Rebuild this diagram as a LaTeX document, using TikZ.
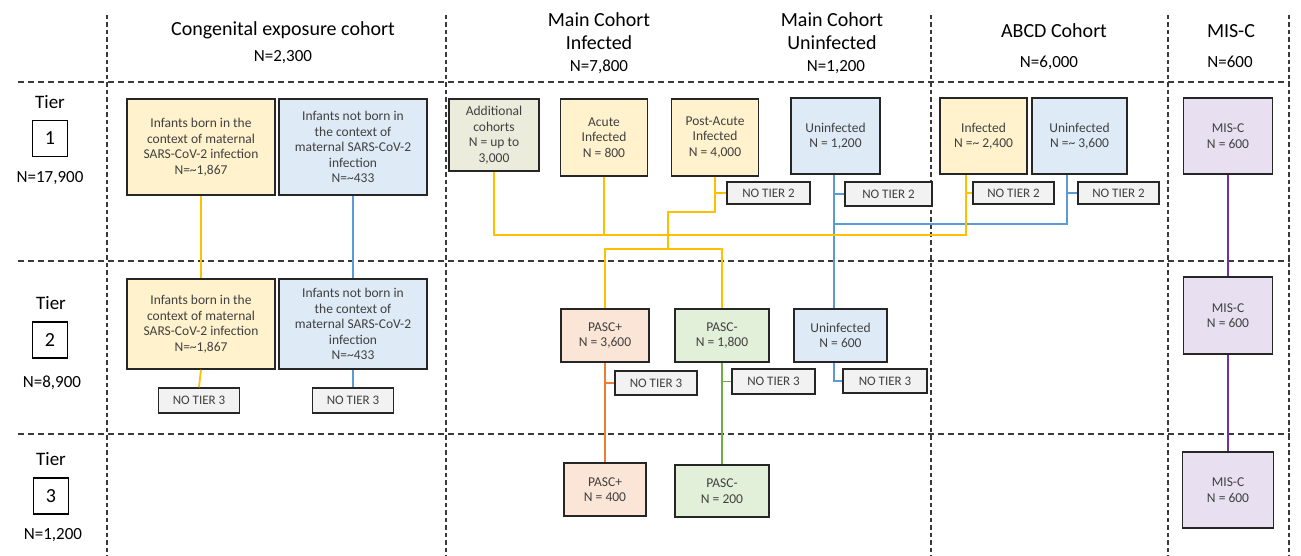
\documentclass[tikz,border=0pt]{standalone}
\usepackage{fontspec}
\setmainfont{Carlito}
\usetikzlibrary{calc}
\definecolor{ylfill}{HTML}{FFF2CC}
\definecolor{blfill}{HTML}{DEEBF7}
\definecolor{olfill}{HTML}{ECECDC}
\definecolor{orfill}{HTML}{FBE5D6}
\definecolor{grfill}{HTML}{E2F0D9}
\definecolor{pufill}{HTML}{E8DFF0}
\definecolor{ntfill}{HTML}{F2F2F2}
\definecolor{yline}{HTML}{FFC000}
\definecolor{bline}{HTML}{5B9BD5}
\definecolor{oline}{HTML}{ED7D31}
\definecolor{gline}{HTML}{70AD47}
\definecolor{pline}{HTML}{7030A0}
\definecolor{bordc}{HTML}{262626}
\definecolor{txtc}{HTML}{404040}
\definecolor{gridc}{HTML}{3A3A3A}
\begin{document}
\begin{tikzpicture}[x=1pt,y=-1pt,
  bx/.style={draw=bordc, line width=1.5pt, align=center, inner sep=1pt, text=txtc,
    font=\fontsize{13.5}{15.5}\selectfont},
  sz/.style 2 args={minimum width=#1pt, minimum height=#2pt},
  nt/.style={bx, fill=ntfill, font=\fontsize{13}{15}\selectfont},
  hdr/.style={align=center, font=\fontsize{20}{23}\selectfont, text=black, inner sep=0pt},
  nlab/.style={font=\fontsize{17}{20}\selectfont, text=black, inner sep=0pt},
  tierbox/.style={draw=black, line width=1.2pt, fill=white, minimum width=35pt, minimum height=36pt,
    font=\fontsize{20}{22}\selectfont, inner sep=0pt},
  gridln/.style={draw=gridc, line width=1.2pt, dash pattern=on 6pt off 4pt},
  gridv/.style={draw=gridc, line width=1.2pt, dash pattern=on 4.5pt off 3pt},
  conn/.style={line width=1.8pt}
]
\useasboundingbox (0,0) rectangle (1301,556);
\fill[white] (0,0) rectangle (1301,556);

% grid
\foreach \xx in {107,446,931,1168,1289} \draw[gridv] (\xx,15) -- (\xx,556);
\foreach \yy in {82,261,434} \draw[gridln] (18,\yy) -- (1290,\yy);

% headers
\node[hdr] (hcong) at (283,30) {Congenital exposure cohort};
\node[nlab] (ncong) at (283,57) {N=2,300};
\node[hdr] (hmi) at (599,31.5) {Main Cohort\\Infected};
\node[nlab] (nmi) at (599,67) {N=7,800};
\node[hdr] (hmu) at (832,31.5) {Main Cohort\\Uninfected};
\node[nlab] (nmu) at (836,67) {N=1,200};
\node[hdr] (habcd) at (1054,31) {ABCD Cohort};
\node[nlab] (nabcd) at (1049,63) {N=6,000};
\node[hdr] (hmis) at (1231,31) {MIS-C};
\node[nlab] (nmis) at (1230,62) {N=600};

% tier labels
\node[hdr, font=\fontsize{19}{22}\selectfont] (t1) at (50,102) {Tier};
\node[tierbox] (t1b) at (50,138.5) {1};
\node[nlab] (t1n) at (50,178) {N=17,900};
\node[hdr, font=\fontsize{19}{22}\selectfont] (t2) at (51,303) {Tier};
\node[tierbox] (t2b) at (50,340) {2};
\node[nlab] (t2n) at (52,383) {N=8,900};
\node[hdr, font=\fontsize{19}{22}\selectfont] (t3) at (51,459) {Tier};
\node[tierbox] (t3b) at (51,496) {3};
\node[nlab] (t3n) at (53,535) {N=1,200};

% tier 1 boxes
\node[bx, fill=ylfill, sz={148}{96}] (cy1) at (201,147) {Infants born in the\\context of maternal\\SARS-CoV-2 infection\\N=\textasciitilde1,867};
\node[bx, fill=blfill, sz={148}{96}] (cb1) at (353,147) {Infants not born in\\the context of\\maternal SARS-CoV-2\\infection\\N=\textasciitilde433};
\node[bx, fill=olfill, sz={90}{72}] (add) at (494,135) {Additional\\cohorts\\N = up to\\3,000};
\node[bx, fill=ylfill, sz={87}{77}] (acute) at (604,137.5) {Acute\\Infected\\N = 800};
\node[bx, fill=ylfill, sz={87}{77}] (post) at (715,137.5) {Post-Acute\\Infected\\N = 4,000};
\node[bx, fill=blfill, sz={89}{76}] (mu1) at (835.5,136) {Uninfected\\N = 1,200};
\node[bx, fill=ylfill, sz={87}{76}] (abi) at (983.5,136) {Infected\\N =\textasciitilde{} 2,400};
\node[bx, fill=blfill, sz={95}{76}] (abu) at (1079.5,136) {Uninfected\\N =\textasciitilde{} 3,600};
\node[bx, fill=pufill, sz={89}{76}] (mis1) at (1228,136) {MIS-C\\N = 600};

% no tier 2
\node[nt, sz={83}{22}] (nt2a) at (768.5,193) {NO TIER 2};
\node[nt, sz={87}{24}] (nt2b) at (888.5,194) {NO TIER 2};
\node[nt, sz={81}{22}] (nt2c) at (1013.5,193) {NO TIER 2};
\node[nt, sz={81}{22}] (nt2d) at (1118.5,193) {NO TIER 2};

% tier 2 boxes
\node[bx, fill=ylfill, sz={148}{90}] (cy2) at (201,324) {Infants born in the\\context of maternal\\SARS-CoV-2 infection\\N=\textasciitilde1,867};
\node[bx, fill=blfill, sz={148}{90}] (cb2) at (353,324) {Infants not born in\\the context of\\maternal SARS-CoV-2\\infection\\N=\textasciitilde433};
\node[nt, sz={81}{25}] (nt3a) at (199,400.5) {NO TIER 3};
\node[nt, sz={81}{25}] (nt3b) at (353,400.5) {NO TIER 3};
\node[bx, fill=orfill, sz={88}{53}] (pp2) at (605,335.5) {PASC+\\N = 3,600};
\node[bx, fill=grfill, sz={94}{53}] (pm2) at (722,335.5) {PASC-\\N = 1,800};
\node[bx, fill=blfill, sz={93}{53}] (mu2) at (840.5,335.5) {Uninfected\\N = 600};
\node[nt, sz={82}{24}] (nt3c) at (656,383) {NO TIER 3};
\node[nt, sz={83}{25}] (nt3d) at (773.5,381.5) {NO TIER 3};
\node[nt, sz={84}{24}] (nt3e) at (885,381) {NO TIER 3};
\node[bx, fill=pufill, sz={89}{77}] (mis2) at (1228,315.5) {MIS-C\\N = 600};

% tier 3 boxes
\node[bx, fill=orfill, sz={82}{53}] (pp3) at (605,489.5) {PASC+\\N = 400};
\node[bx, fill=grfill, sz={94}{52}] (pm3) at (722,491) {PASC-\\N = 200};
\node[bx, fill=pufill, sz={91}{76}] (mis3) at (1228,490) {MIS-C\\N = 600};

% helper coordinates
\coordinate (abiout) at ([xshift=-17.5pt]abi.south);
\coordinate (abuout) at ([xshift=-12.5pt]abu.south);
\coordinate (mline) at ([xshift=-1.5pt]mu1.south);
\coordinate (yl) at (966,235);
\coordinate (bh) at (0,224);
\coordinate (pj) at (668,212);
\coordinate (sp) at (668,249);

% connectors
\draw[conn, yline] (cy1.south) -- (cy2.north);
\draw[conn, yline] (cy2.south) -- (nt3a.north);
\draw[conn, bline] (cb1.south) -- (cb2.north);
\draw[conn, bline] (cb2.south) -- (nt3b.north);

\draw[conn, bline] (abuout) |- (bh -| mline);
\draw[conn, bline] (abuout |- nt2d.west) -- (nt2d.west);
\draw[conn, bline] (mline) -- (mline |- mu2.north);
\draw[conn, bline] (mline |- nt2b.west) -- (nt2b.west);
\draw[conn, bline] (mline |- mu2.south) |- (nt3e.west);

\draw[conn, yline] (add.south) |- (yl) -- (abiout);
\draw[conn, yline] (acute.south) -- (acute.south |- yl);
\draw[conn, yline] (abiout |- nt2c.west) -- (nt2c.west);
\draw[conn, yline] (post.south) |- (pj) -- (sp);
\draw[conn, yline] (post.south |- nt2a.west) -- (nt2a.west);
\draw[conn, yline] (pp2.north) |- (sp) -| (pm2.north);

\draw[conn, oline] (pp2.south) -- (pp3.north);
\draw[conn, oline] (pp2.south |- nt3c.west) -- (nt3c.west);
\draw[conn, gline] (pm2.south) -- (pm3.north);
\draw[conn, gline] (pm2.south |- nt3d.west) -- (nt3d.west);

\draw[conn, pline] (mis1.south) -- (mis2.north);
\draw[conn, pline] (mis2.south) -- (mis3.north);
\end{tikzpicture}
\end{document}
